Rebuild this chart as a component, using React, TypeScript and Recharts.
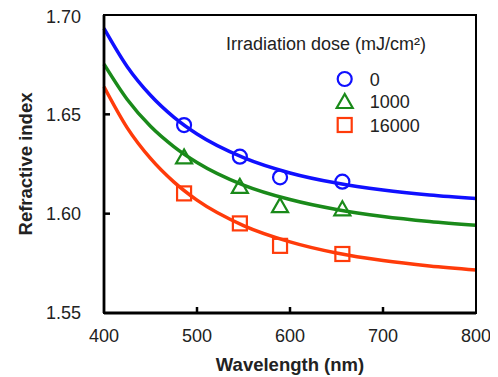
import React from 'react';
import { ComposedChart, Line, Scatter, XAxis, YAxis } from 'recharts';

const curveWavelengths = [400, 425, 450, 475, 500, 550, 600, 650, 700, 750, 800];
const curveDose0 = [1.6933, 1.674, 1.6596, 1.6486, 1.6401, 1.6282, 1.6205, 1.6154, 1.6119, 1.6094, 1.6076];
const curveDose1000 = [1.6753, 1.6575, 1.644, 1.6338, 1.6258, 1.6144, 1.6071, 1.6021, 1.5986, 1.5961, 1.5942];
const curveDose16000 = [1.6639, 1.6432, 1.6278, 1.616, 1.6068, 1.594, 1.5858, 1.5802, 1.5764, 1.5737, 1.5717];

const markerWavelengths = [486.1, 546.1, 589.3, 656.3];
const measuredDose0 = [1.6446, 1.6287, 1.6183, 1.6161];
const measuredDose1000 = [1.6283, 1.6135, 1.6038, 1.6022];
const measuredDose16000 = [1.6102, 1.5951, 1.5838, 1.5797];

const seriesLabels = ['0', '1000', '16000'];
const legendTitle = 'Irradiation dose (mJ/cm\u00B2)';
const xTicks = [400, 500, 600, 700, 800];
const yTicks = [1.55, 1.6, 1.65, 1.7];
const X_DOMAIN = [400, 800];
const Y_DOMAIN = [1.55, 1.7];

const BLUE = '#1010ff';
const GREEN = '#1a8a1a';
const RED = '#ff3b0a';
const FONT = '"Liberation Sans", Arial, sans-serif';

const CHART_W = 490;
const CHART_H = 369;
const MARGIN = { top: 7, right: 22, bottom: 0, left: 0 };
const Y_AXIS_W = 96;
const X_AXIS_H = 64;
const PLOT = {
  left: MARGIN.left + Y_AXIS_W,
  top: MARGIN.top,
  right: CHART_W - MARGIN.right,
  bottom: CHART_H - MARGIN.bottom - X_AXIS_H,
};
const FRAME_W = 2.8;

const curveData = curveWavelengths.map((wl, i) => ({
  wl,
  c0: curveDose0[i],
  c1: curveDose1000[i],
  c2: curveDose16000[i],
}));
const pts = (vals: number[]) => markerWavelengths.map((wl, i) => ({ wl, n: vals[i] }));

const X_MARGIN = 16;
const Y_MARGIN = 23;

const XTick = (props: any) => {
  const { x, y, payload } = props;
  return (
    <text x={x} y={y} dy="0.71em" textAnchor="middle" fontFamily={FONT} fontSize={18} fill="#222">
      {payload.value}
    </text>
  );
};

const YTick = (props: any) => {
  const { x, y, payload } = props;
  return (
    <text x={x} y={y} dy="0.35em" textAnchor="end" fontFamily={FONT} fontSize={18} fill="#222">
      {payload.value.toFixed(2)}
    </text>
  );
};

const CircleShape = (props: any) => (
  <circle cx={props.cx} cy={props.cy} r={7} fill="none" stroke={BLUE} strokeWidth={2.2} />
);
const TriangleShape = (props: any) => {
  const { cx, cy } = props;
  return (
    <polygon
      points={`${cx},${cy - 8} ${cx - 8},${cy + 6} ${cx + 8},${cy + 6}`}
      fill="none"
      stroke={GREEN}
      strokeWidth={2.2}
    />
  );
};
const SquareShape = (props: any) => (
  <rect x={props.cx - 7} y={props.cy - 7} width={14} height={14} fill="none" stroke={RED} strokeWidth={2.2} />
);

const FrameBorder = () => (
  <div
    style={{
      position: 'absolute',
      left: PLOT.left - FRAME_W / 2,
      top: PLOT.top - FRAME_W / 2,
      width: PLOT.right - PLOT.left + FRAME_W,
      height: PLOT.bottom - PLOT.top + FRAME_W,
      border: `${FRAME_W}px solid #000`,
      boxSizing: 'border-box',
      pointerEvents: 'none',
    }}
  />
);

const TickOverlay = () => {
  const sx = (v: number) => PLOT.left + ((v - X_DOMAIN[0]) / (X_DOMAIN[1] - X_DOMAIN[0])) * (PLOT.right - PLOT.left);
  const sy = (v: number) => PLOT.bottom - ((v - Y_DOMAIN[0]) / (Y_DOMAIN[1] - Y_DOMAIN[0])) * (PLOT.bottom - PLOT.top);
  return (
    <svg
      width={CHART_W}
      height={CHART_H}
      style={{ position: 'absolute', left: 0, top: 0, pointerEvents: 'none' }}
    >
      {xTicks.slice(1, -1).map((v) => (
        <line key={`x${v}`} x1={sx(v)} x2={sx(v)} y1={PLOT.bottom} y2={PLOT.bottom - 6} stroke="#000" strokeWidth={2.5} />
      ))}
      {yTicks.slice(1, -1).map((v) => (
        <line key={`y${v}`} x1={PLOT.left} x2={PLOT.left + 6} y1={sy(v)} y2={sy(v)} stroke="#000" strokeWidth={2.5} />
      ))}
    </svg>
  );
};

const LegendBox = () => (
  <div style={{ position: 'absolute', left: 200, top: 20, width: 260, height: 115, pointerEvents: 'none' }}>
    <svg width={260} height={115} style={{ display: 'block' }}>
      <text x={18} y={21.5} fontFamily={FONT} fontSize={18} fill="#222">{legendTitle}</text>
      <circle cx={136.7} cy={51} r={7} fill="none" stroke={BLUE} strokeWidth={2.2} />
      <polygon points="136.7,66 128.7,80 144.7,80" fill="none" stroke={GREEN} strokeWidth={2.2} />
      <rect x={129.7} y={90} width={14} height={14} fill="none" stroke={RED} strokeWidth={2.2} />
      <text x={161.7} y={57.5} fontFamily={FONT} fontSize={18} fill="#222">{seriesLabels[0]}</text>
      <text x={161.7} y={80.2} fontFamily={FONT} fontSize={18} fill="#222">{seriesLabels[1]}</text>
      <text x={161.7} y={103.5} fontFamily={FONT} fontSize={18} fill="#222">{seriesLabels[2]}</text>
    </svg>
  </div>
);

const YTitle = (props: any) => {
  const vb = props.viewBox || {};
  const cy = (vb.y || 0) + (vb.height || 0) / 2;
  const bx = 23.5;
  return (
    <text
      x={bx}
      y={cy}
      transform={`rotate(-90 ${bx} ${cy})`}
      textAnchor="middle"
      fontFamily={FONT}
      fontSize={18.5}
      fontWeight="bold"
      fill="#222"
    >
      Refractive index
    </text>
  );
};

export default function App() {
  return (
    <div style={{ position: 'relative', width: CHART_W, height: CHART_H }}>
      <ComposedChart width={CHART_W} height={CHART_H} data={curveData} margin={MARGIN}>
        <XAxis
          dataKey="wl"
          type="number"
          domain={X_DOMAIN}
          ticks={xTicks}
          height={X_AXIS_H}
          tickSize={0}
          tickMargin={X_MARGIN}
          tick={<XTick />}
          axisLine={{ stroke: '#000', strokeWidth: FRAME_W }}
          label={{
            value: 'Wavelength (nm)',
            position: 'insideBottom',
            offset: 6,
            style: { fontFamily: FONT, fontSize: 18.5, fontWeight: 'bold', fill: '#222' },
          }}
        />
        <YAxis
          type="number"
          domain={Y_DOMAIN}
          ticks={yTicks}
          width={Y_AXIS_W}
          tickSize={0}
          tickMargin={Y_MARGIN}
          tick={<YTick />}
          axisLine={{ stroke: '#000', strokeWidth: FRAME_W }}
          label={<YTitle />}
        />
        <Line dataKey="c0" type="monotone" stroke={BLUE} strokeWidth={3.5} dot={false} isAnimationActive={false} legendType="none" />
        <Line dataKey="c1" type="monotone" stroke={GREEN} strokeWidth={3.5} dot={false} isAnimationActive={false} legendType="none" />
        <Line dataKey="c2" type="monotone" stroke={RED} strokeWidth={3.5} dot={false} isAnimationActive={false} legendType="none" />
        <Scatter data={pts(measuredDose0)} dataKey="n" shape={<CircleShape />} isAnimationActive={false} />
        <Scatter data={pts(measuredDose1000)} dataKey="n" shape={<TriangleShape />} isAnimationActive={false} />
        <Scatter data={pts(measuredDose16000)} dataKey="n" shape={<SquareShape />} isAnimationActive={false} />
      </ComposedChart>
      <FrameBorder />
      <TickOverlay />
      <LegendBox />
    </div>
  );
}
